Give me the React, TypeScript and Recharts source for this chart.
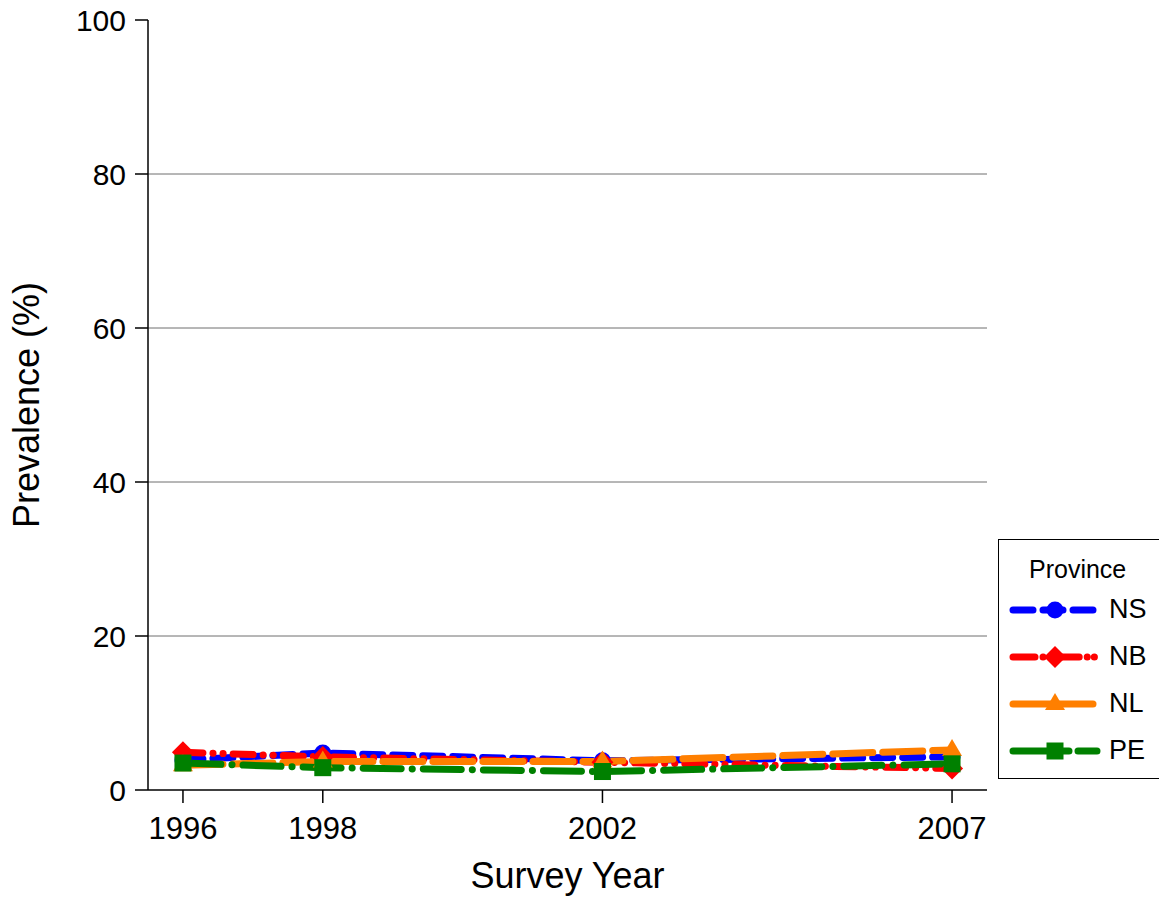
import { LineChart, Line, XAxis, YAxis, CartesianGrid } from 'recharts';

const years = [1996, 1998, 2002, 2007];
const yearTicks = [1996, 1998, 2002, 2007];
const valueTicks = [0, 20, 40, 60, 80, 100];

const nsValues = [3.9, 4.8, 3.8, 4.3];
const nbValues = [4.9, 4.3, 3.6, 2.8];
const nlValues = [3.2, 3.7, 3.7, 5.2];
const peValues = [3.5, 2.9, 2.4, 3.4];

const data = years.map((year, i) => ({
  year,
  NS: nsValues[i],
  NB: nbValues[i],
  NL: nlValues[i],
  PE: peValues[i],
}));

type Shape = 'circle' | 'diamond' | 'triangle' | 'square';

interface SeriesDef {
  key: string;
  color: string;
  dash: string;
  legendDash: string;
  shape: Shape;
}

const series: SeriesDef[] = [
  { key: 'NS', color: '#0000ff', dash: '20 10', legendDash: '20 10', shape: 'circle' },
  { key: 'NB', color: '#ff0000', dash: '20 10 0.1 10 0.1 10', legendDash: '22 8 0.1 7 0.1 7', shape: 'diamond' },
  { key: 'NL', color: '#ff7f00', dash: '40 10', legendDash: '80 4', shape: 'triangle' },
  { key: 'PE', color: '#008000', dash: '38 11 0.1 11', legendDash: '56 9', shape: 'square' },
];

const FONT = '"Liberation Sans", Arial, sans-serif';

function Marker({ cx, cy, shape, color }: { cx: number; cy: number; shape: Shape; color: string }) {
  if (cx == null || cy == null) return null;
  switch (shape) {
    case 'circle':
      return <circle cx={cx} cy={cy} r={8.5} fill={color} />;
    case 'diamond':
      return <path d={`M${cx},${cy - 11} L${cx + 11},${cy} L${cx},${cy + 11} L${cx - 11},${cy} Z`} fill={color} />;
    case 'triangle':
      return <path d={`M${cx},${cy - 11} L${cx + 10},${cy + 6} L${cx - 10},${cy + 6} Z`} fill={color} />;
    default:
      return <rect x={cx - 8.5} y={cy - 8.5} width={17} height={17} fill={color} />;
  }
}

function ProvinceLegend() {
  return (
    <div
      style={{
        position: 'absolute',
        left: 998,
        top: 539,
        border: '1.5px solid #000',
        borderRight: 'none',
        width: 161,
        height: 240,
        boxSizing: 'border-box',
        fontFamily: FONT,
        background: '#fff',
      }}
    >
      <div style={{ fontSize: 25, paddingLeft: 30, marginTop: 12, height: 34, lineHeight: '34px' }}>Province</div>
      {series.map((s) => (
        <div key={s.key} style={{ display: 'flex', alignItems: 'center', height: 47 }}>
          <svg width={100} height={30} style={{ marginLeft: 8 }}>
            <line
              x1={6}
              y1={15}
              x2={90}
              y2={15}
              stroke={s.color}
              strokeWidth={7}
              strokeLinecap="round"
              strokeDasharray={s.legendDash}
            />
            <Marker cx={48} cy={15} shape={s.shape} color={s.color} />
          </svg>
          <span style={{ fontSize: 27, marginLeft: 2 }}>{s.key}</span>
        </div>
      ))}
    </div>
  );
}

export default function App() {
  return (
    <div style={{ position: 'absolute', left: 0, top: 0, width: 1159, height: 898, background: '#fff' }}>
      <LineChart
        width={1159}
        height={898}
        data={data}
        margin={{ top: 20, right: 172, bottom: 48, left: 48 }}
      >
        <CartesianGrid vertical={false} horizontalValues={[20, 40, 60, 80]} stroke="#6e6e6e" strokeWidth={1} />
        <XAxis
          dataKey="year"
          type="number"
          domain={[1995.5, 2007.5]}
          ticks={yearTicks}
          height={60}
          tickSize={13}
          tickMargin={14}
          stroke="#000"
          strokeWidth={1.5}
          tick={{ fill: '#000', fontSize: 31, fontFamily: FONT }}
          label={{ value: 'Survey Year', position: 'insideBottom', offset: -38, fill: '#000', fontSize: 36, fontFamily: FONT }}
        />
        <YAxis
          type="number"
          domain={[0, 100]}
          ticks={valueTicks}
          width={100}
          tickSize={13}
          tickMargin={9}
          stroke="#000"
          strokeWidth={1.5}
          tick={{ fill: '#000', fontSize: 30, fontFamily: FONT }}
          label={{
            value: 'Prevalence (%)',
            angle: -90,
            position: 'insideLeft',
            offset: -22,
            fill: '#000',
            fontSize: 36,
            fontFamily: FONT,
            style: { textAnchor: 'middle' },
          }}
        />
        {series.map((s) => (
          <Line
            key={s.key}
            dataKey={s.key}
            stroke={s.color}
            strokeWidth={7}
            strokeLinecap="round"
            strokeDasharray={s.dash}
            isAnimationActive={false}
            dot={(props: any) => (
              <Marker key={`${s.key}-${props.index}`} cx={props.cx} cy={props.cy} shape={s.shape} color={s.color} />
            )}
            activeDot={false}
          />
        ))}
      </LineChart>
      <ProvinceLegend />
    </div>
  );
}
